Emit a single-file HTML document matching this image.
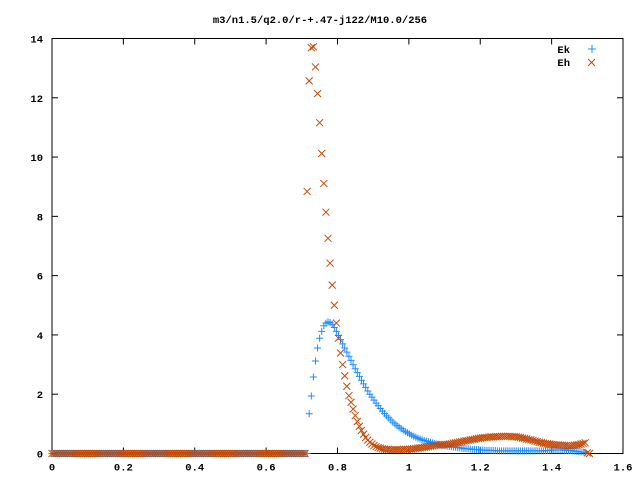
<!DOCTYPE html>
<html><head><meta charset="utf-8"><style>
body{margin:0;background:#fff}
svg{display:block}
text{font-family:"Liberation Mono","DejaVu Sans Mono",monospace;font-weight:bold;font-size:10.5px;fill:#000}
</style></head><body>
<svg id="chart" width="640" height="480" xmlns="http://www.w3.org/2000/svg">
<rect width="640" height="480" fill="#fff"/>
<text x="320" y="23" text-anchor="middle">m3/n1.5/q2.0/r-+.47-j122/M10.0/256</text>
<g id="axes"></g>
<g id="marks"></g>
<g>
<text x="570" y="53" text-anchor="end">Ek</text>
<g stroke="#1e8cff" stroke-width="1"><line x1="588" y1="49" x2="596" y2="49"/><line x1="592" y1="45" x2="592" y2="53"/></g>
<text x="570" y="66" text-anchor="end">Eh</text>
<g stroke="#c44a08" stroke-width="1"><line x1="588" y1="59" x2="595" y2="66"/><line x1="588" y1="66" x2="595" y2="59"/></g>
</g>
</svg>
<script>
const xStep = 1.5/256;
const xTicks = ["0","0.2","0.4","0.6","0.8","1","1.2","1.4","1.6"];
const yTicks = ["0","2","4","6","8","10","12","14"];
const zeros122 = [0,0,0,0,0,0,0,0,0,0,0,0,0,0,0,0,0,0,0,0,0,0,0,0,0,0,0,0,0,0,0,0,0,0,0,0,0,0,0,0,0,0,0,0,0,0,0,0,0,0,0,0,0,0,0,0,0,0,0,0,0,0,0,0,0,0,0,0,0,0,0,0,0,0,0,0,0,0,0,0,0,0,0,0,0,0,0,0,0,0,0,0,0,0,0,0,0,0,0,0,0,0,0,0,0,0,0,0,0,0,0,0,0,0,0,0,0,0,0,0,0,0];
const ekTail = [0,1.34,1.94,2.58,3.12,3.56,3.89,4.12,4.31,4.40,4.44,4.42,4.36,4.25,4.12,3.98,3.84,3.70,3.56,3.42,3.28,3.14,3.00,2.86,2.73,2.60,2.47,2.35,2.23,2.11,2.00,1.90,1.80,1.70,1.61,1.52,1.43,1.35,1.27,1.20,1.13,1.06,1.00,0.94,0.89,0.84,0.79,0.74,0.70,0.66,0.62,0.58,0.55,0.52,0.49,0.46,0.44,0.42,0.40,0.38,0.36,0.34,0.32,0.31,0.29,0.28,0.26,0.25,0.24,0.23,0.22,0.21,0.20,0.19,0.18,0.17,0.16,0.16,0.15,0.14,0.14,0.13,0.13,0.12,0.12,0.11,0.11,0.11,0.10,0.10,0.10,0.09,0.09,0.09,0.09,0.09,0.09,0.09,0.09,0.09,0.09,0.09,0.09,0.09,0.09,0.09,0.09,0.09,0.09,0.09,0.09,0.09,0.09,0.09,0.10,0.10,0.11,0.11,0.12,0.12,0.12,0.12,0.12,0.11,0.11,0.10,0.10,0.09,0.08,0.07,0.06,0.05,0.05,0.04];
const ehTail = [8.84,12.57,13.69,13.72,13.04,12.14,11.16,10.12,9.11,8.14,7.26,6.42,5.68,5.0,4.4,3.89,3.39,3.0,2.62,2.27,1.95,1.73,1.5,1.28,1.08,0.92,0.78,0.65,0.54,0.45,0.38,0.32,0.27,0.23,0.2,0.18,0.16,0.15,0.14,0.14,0.13,0.13,0.13,0.13,0.13,0.13,0.14,0.14,0.14,0.15,0.15,0.16,0.17,0.18,0.19,0.20,0.21,0.22,0.23,0.25,0.26,0.27,0.28,0.28,0.29,0.30,0.31,0.31,0.32,0.33,0.35,0.36,0.37,0.39,0.40,0.42,0.43,0.44,0.46,0.47,0.48,0.50,0.51,0.52,0.53,0.54,0.54,0.55,0.56,0.56,0.57,0.57,0.57,0.58,0.58,0.58,0.58,0.58,0.57,0.57,0.56,0.55,0.54,0.52,0.51,0.49,0.47,0.46,0.44,0.42,0.40,0.38,0.37,0.35,0.34,0.33,0.32,0.31,0.30,0.29,0.29,0.28,0.28,0.27,0.27,0.26,0.26,0.27,0.28,0.29,0.30,0.32,0.34,0.36,0.02,0];
const ekValues = zeros122.concat(ekTail);
const ehValues = zeros122.concat(ehTail);

const L=52,R=623,T=38.5,B=453.5,XMAX=1.6,YMAX=14;
const sx=v=>L+v/XMAX*(R-L);
const sy=v=>B-v/YMAX*(B-T);
const NS="http://www.w3.org/2000/svg";
function mk(tag,attrs,parent){const e=document.createElementNS(NS,tag);for(const k in attrs)e.setAttribute(k,attrs[k]);parent.appendChild(e);return e;}
const axes=document.getElementById('axes');
const frame=mk('rect',{x:L,y:T,width:R-L,height:B-T,fill:'none',stroke:'#000','stroke-width':1},axes);


xTicks.forEach(t=>{const v=parseFloat(t),x=sx(v);
 const g=mk('g',{stroke:'#000'},axes);
 
 
 mk('line',{x1:x,y1:B,x2:x,y2:B-6},g);mk('line',{x1:x,y1:T,x2:x,y2:T+6},g);
 const tx=mk('text',{x:x,y:B+17,'text-anchor':'middle'},axes);tx.textContent=t;
 
 
});
yTicks.forEach(t=>{const v=parseFloat(t),y=sy(v);
 const g=mk('g',{stroke:'#000'},axes);
 
 
 mk('line',{x1:L,y1:y,x2:L+6,y2:y},g);mk('line',{x1:R,y1:y,x2:R-6,y2:y},g);
 const tx=mk('text',{x:L-9,y:y+4,'text-anchor':'end'},axes);tx.textContent=t;
 
 
});
const marks=document.getElementById('marks');
const gk=mk('g',{stroke:'#1e8cff','stroke-width':1},marks);


const gh=mk('g',{stroke:'#c44a08','stroke-width':1},marks);


ekValues.forEach((v,i)=>{const x=sx(i*xStep),y=sy(v);
 const p=mk('path',{d:`M${x-3.5},${y}H${x+3.5}M${x},${y-3.5}V${y+3.5}`,fill:'none'},gk);
 
 
});
ehValues.forEach((v,i)=>{const x=sx(i*xStep),y=sy(v);
 const p=mk('path',{d:`M${x-3.5},${y-3.5}L${x+3.5},${y+3.5}M${x-3.5},${y+3.5}L${x+3.5},${y-3.5}`,fill:'none'},gh);
 
 
});
</script>
</body></html>
